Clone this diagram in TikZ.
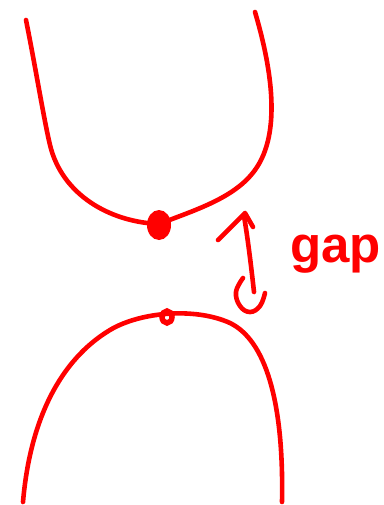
\documentclass[tikz,border=0pt]{standalone}
\usepackage{fontspec}
\newfontfamily\handfont{Liberation Sans}
\definecolor{ink}{RGB}{255,0,0}
\begin{document}
\begin{tikzpicture}[x=1pt,y=-1pt,
  stroke/.style={draw=ink,line width=4.6pt,line cap=round,line join=round},
  label/.style={text=ink,font=\handfont\bfseries\fontsize{51}{56}\selectfont,inner sep=0pt,anchor=base west}]
\useasboundingbox (0,0) rectangle (383,505);
% upper curve
\draw[stroke] (26,20) .. controls (36,70) and (44,120) .. (50,145)
  .. controls (62,195) and (110,222) .. (159,224)
  .. controls (195,210) and (235,198) .. (255,170)
  .. controls (276,141) and (278,90) .. (255,12);
\fill[ink] (159,225) ellipse [x radius=12,y radius=15];
% lower curve
\draw[stroke] (23,502) .. controls (30,420) and (60,360) .. (110,330)
  .. controls (140,312) and (195,307) .. (230,323)
  .. controls (265,340) and (284,400) .. (282,502);
\draw[draw=ink,line width=5.5pt] (167,317) ellipse [x radius=5,y radius=6];
% gap arrow
\draw[stroke] (218,240) -- (245,213) -- (253,227);
\draw[stroke] (244,216) .. controls (248,240) and (251,265) .. (254,292);
\draw[stroke] plot[smooth,tension=0.7] coordinates {(243,278) (236,292) (240,306) (250,312) (260,306) (265,293)};
\node[label] (gap) at (290,262) {gap};
\end{tikzpicture}
\end{document}
